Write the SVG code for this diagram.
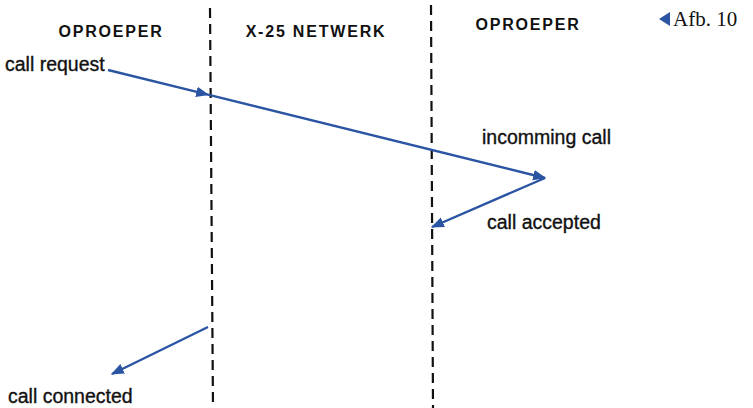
<svg xmlns="http://www.w3.org/2000/svg" width="753" height="408" viewBox="0 0 753 408">
  <style>
    .head { font-family: "Liberation Sans", Arial, sans-serif; font-weight: bold; font-size: 16px; letter-spacing: 1.8px; fill: #111; text-anchor: middle; }
    .lbl { font-family: "Liberation Sans", Arial, sans-serif; font-size: 19.5px; fill: #111; stroke: #111; stroke-width: 0.35px; }
    .life { stroke: #111; stroke-width: 2.2; stroke-dasharray: 10 6; fill: none; }
    .msg { stroke: #2b55a3; stroke-width: 2.4; fill: none; }
  </style>
  <defs>
    <marker id="ah" viewBox="0 0 10 10" refX="9" refY="5" markerWidth="5.5" markerHeight="5.5" orient="auto" markerUnits="strokeWidth">
      <path d="M0,1 L10,5 L0,9 Z" fill="#2b55a3"/>
    </marker>
  </defs>
  <rect width="753" height="408" fill="#fff"/>

  <g id="lifelines">
    <line class="life" x1="210" y1="8" x2="213" y2="408"/>
    <line class="life" x1="431" y1="5" x2="433" y2="408"/>
  </g>

  <g id="col-caller">
    <text class="head" x="111" y="37">OPROEPER</text>
  </g>
  <g id="col-network">
    <text class="head" x="316" y="37">X-25 NETWERK</text>
  </g>
  <g id="col-callee">
    <text class="head" x="528" y="30">OPROEPER</text>
  </g>
  <g id="caption">
    <path d="M670,12 L670,26 L659,19 Z" fill="#2b55a3"/>
    <text x="673" y="26" font-family="Liberation Serif, serif" font-size="21" fill="#111">Afb. 10</text>
  </g>

  <g id="connectors">
    <line class="msg" x1="108" y1="70" x2="208" y2="94.7" marker-end="url(#ah)"/>
    <line class="msg" x1="208" y1="94.7" x2="545" y2="178" marker-end="url(#ah)"/>
    <line class="msg" x1="545" y1="178" x2="432" y2="227" marker-end="url(#ah)"/>
    <line class="msg" x1="208" y1="327" x2="112" y2="374" marker-end="url(#ah)"/>
  </g>

  <g id="labels">
    <text class="lbl" x="5" y="71">call request</text>
    <text class="lbl" x="482" y="144">incomming call</text>
    <text class="lbl" x="487" y="229">call accepted</text>
    <text class="lbl" x="8" y="403">call connected</text>
  </g>
</svg>
